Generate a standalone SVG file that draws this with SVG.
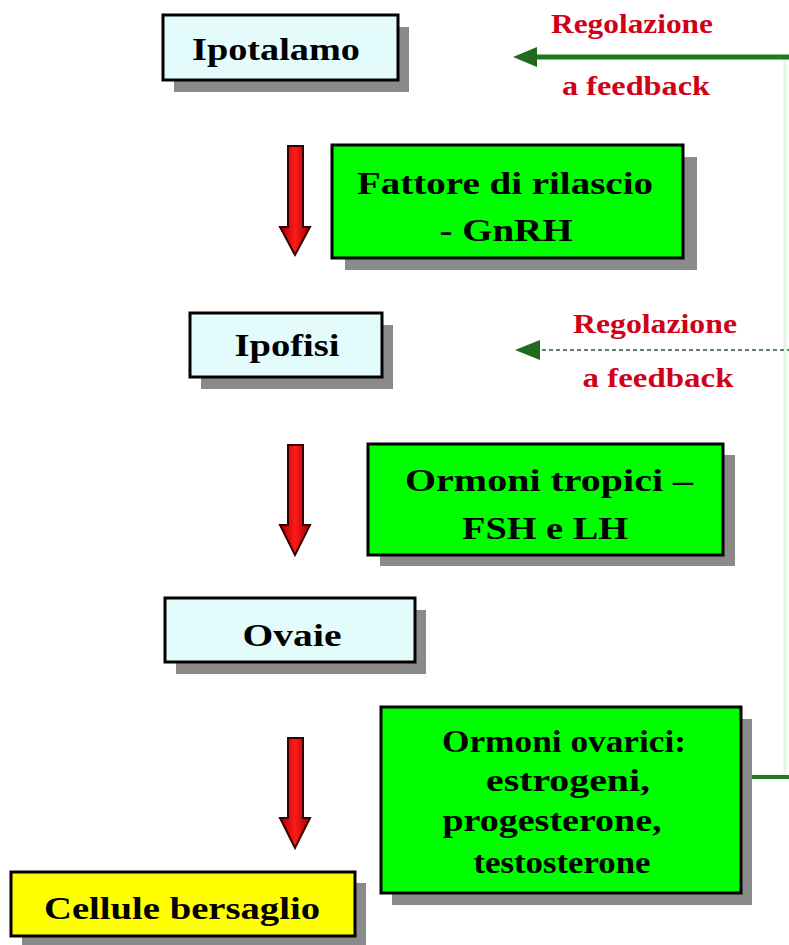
<svg xmlns="http://www.w3.org/2000/svg" width="789" height="945" viewBox="0 0 789 945">
<defs>
<style>
.box{stroke:#000;stroke-width:3}
.cyan{fill:#e4fbfb}
.green{fill:#00ff00}
.yellow{fill:#ffff00}
.shadow{fill:#8a8a8a}
.t{font-family:"Liberation Serif","Times New Roman",serif;font-weight:bold;fill:#000;text-anchor:middle;font-size:32px}
.r{font-family:"Liberation Serif","Times New Roman",serif;font-weight:bold;fill:#d00018;text-anchor:middle;font-size:27px}
.arrow{fill:url(#redg);stroke:#3a0000;stroke-width:2;stroke-linejoin:miter}
</style>
<linearGradient id="redg" x1="0" y1="0" x2="1" y2="0">
<stop offset="0" stop-color="#a00000"/>
<stop offset="0.5" stop-color="#ff1a1a"/>
<stop offset="1" stop-color="#a00000"/>
</linearGradient>
</defs>
<rect width="789" height="945" fill="#ffffff"/>

<g id="connectors">
<line x1="785" y1="57" x2="785" y2="777" stroke="#e2f8e2" stroke-width="3"/>
<line x1="532" y1="57" x2="789" y2="57" stroke="#1f7a1f" stroke-width="5"/>
<polygon points="513,57 537,47 537,67" fill="#1f6a1f"/>
<line x1="535" y1="350" x2="789" y2="350" stroke="#2a5a2a" stroke-width="1.5" stroke-dasharray="4,3"/>
<polygon points="515,350 540,340 540,360" fill="#1f6a1f"/>
<line x1="741" y1="777" x2="789" y2="777" stroke="#1f7a1f" stroke-width="4"/>
<path class="arrow" d="M288,146 H303 V227 H310 L295,255 L280,227 H288 Z"/>
<path class="arrow" d="M288,445 H303 V525 H310 L295,555 L280,525 H288 Z"/>
<path class="arrow" d="M288,738 H303 V818 H310 L295,848 L280,818 H288 Z"/>
</g>

<g id="fb1">
<text class="r" x="632" y="33" textLength="162" lengthAdjust="spacingAndGlyphs">Regolazione</text>
<text class="r" x="636" y="95" textLength="148" lengthAdjust="spacingAndGlyphs">a feedback</text>
</g>
<g id="fb2">
<text class="r" x="655" y="333" textLength="164" lengthAdjust="spacingAndGlyphs">Regolazione</text>
<text class="r" x="658" y="387" textLength="151" lengthAdjust="spacingAndGlyphs">a feedback</text>
</g>

<g id="ipotalamo">
<rect class="shadow" x="174" y="27" width="235" height="65"/>
<rect class="box cyan" x="163" y="15" width="235" height="65"/>
<text class="t" x="276" y="60" textLength="168" lengthAdjust="spacingAndGlyphs">Ipotalamo</text>
</g>

<g id="fattore">
<rect class="shadow" x="345" y="157" width="352" height="113"/>
<rect class="box green" x="332" y="145" width="351" height="113"/>
<text class="t" x="505" y="194" textLength="296" lengthAdjust="spacingAndGlyphs">Fattore di rilascio</text>
<text class="t" x="506" y="241" textLength="133" lengthAdjust="spacingAndGlyphs">- GnRH</text>
</g>

<g id="ipofisi">
<rect class="shadow" x="201" y="325" width="192" height="64"/>
<rect class="box cyan" x="190" y="313" width="192" height="64"/>
<text class="t" x="287" y="356" textLength="105" lengthAdjust="spacingAndGlyphs">Ipofisi</text>
</g>

<g id="tropici">
<rect class="shadow" x="380" y="455" width="355" height="111"/>
<rect class="box green" x="368" y="444" width="355" height="111"/>
<text class="t" x="549" y="491" textLength="288" lengthAdjust="spacingAndGlyphs">Ormoni tropici –</text>
<text class="t" x="545" y="539" textLength="166" lengthAdjust="spacingAndGlyphs">FSH e LH</text>
</g>

<g id="ovaie">
<rect class="shadow" x="176" y="610" width="250" height="64"/>
<rect class="box cyan" x="165" y="598" width="250" height="64"/>
<text class="t" x="292" y="646" textLength="99" lengthAdjust="spacingAndGlyphs">Ovaie</text>
</g>

<g id="ovarici">
<rect class="shadow" x="392" y="719" width="360" height="186"/>
<rect class="box green" x="381" y="707" width="360" height="186"/>
<text class="t" x="564" y="752" textLength="244" lengthAdjust="spacingAndGlyphs">Ormoni ovarici:</text>
<text class="t" x="568" y="791" textLength="164" lengthAdjust="spacingAndGlyphs">estrogeni,</text>
<text class="t" x="552" y="831" textLength="219" lengthAdjust="spacingAndGlyphs">progesterone,</text>
<text class="t" x="562" y="873" textLength="177" lengthAdjust="spacingAndGlyphs">testosterone</text>
</g>

<g id="cellule">
<rect class="shadow" x="22" y="883" width="344" height="64"/>
<rect class="box yellow" x="11" y="872" width="344" height="64"/>
<text class="t" x="182" y="919" textLength="276" lengthAdjust="spacingAndGlyphs">Cellule bersaglio</text>
</g>
</svg>
